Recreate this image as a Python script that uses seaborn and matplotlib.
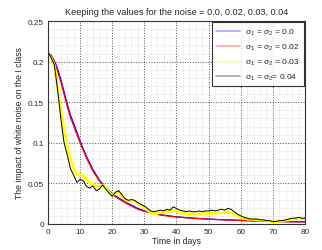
import numpy as np
import pandas as pd
import matplotlib
matplotlib.use("Agg")
import matplotlib.pyplot as plt
import seaborn as sns
from matplotlib.ticker import MultipleLocator

# deterministic curves (sigma = 0.0 and 0.02)
t_smooth = [0, 1, 2, 3, 4, 5, 6, 7, 8, 9, 10, 12, 14, 16, 18, 20, 22, 25, 28, 30,
            35, 40, 45, 50, 55, 60, 65, 70, 75, 80]
i_s00 = [0.21, 0.208, 0.201, 0.191, 0.178, 0.163, 0.148, 0.134, 0.124, 0.113, 0.102,
         0.083, 0.067, 0.054, 0.045, 0.037, 0.032, 0.025, 0.019, 0.016,
         0.0112, 0.0087, 0.0071, 0.0059, 0.005, 0.0043, 0.0036, 0.0031, 0.0028, 0.0026]
i_s02 = [0.21, 0.207, 0.199, 0.188, 0.175, 0.16, 0.145, 0.131, 0.121, 0.11, 0.1,
         0.081, 0.065, 0.053, 0.044, 0.036, 0.031, 0.024, 0.018, 0.0155,
         0.011, 0.0085, 0.007, 0.0058, 0.005, 0.0043, 0.0036, 0.003, 0.0027, 0.0025]

# noisy curves (sigma = 0.03 and 0.04), one value per day
t_days = list(range(81))
i_s03 = [0.21, 0.205, 0.195, 0.168, 0.14, 0.118, 0.096, 0.08, 0.068, 0.06,
         0.061, 0.059, 0.055, 0.05, 0.05, 0.046, 0.045, 0.048, 0.044, 0.039,
         0.035, 0.038, 0.04, 0.035, 0.03, 0.028, 0.029, 0.028, 0.025, 0.023,
         0.02, 0.017, 0.014, 0.013, 0.013, 0.014, 0.014, 0.015, 0.015, 0.017,
         0.016, 0.014, 0.013, 0.012, 0.013, 0.012, 0.012, 0.012, 0.012, 0.013,
         0.013, 0.013, 0.013, 0.014, 0.014, 0.014, 0.015, 0.014, 0.012, 0.01,
         0.008, 0.007, 0.006, 0.0055, 0.0055, 0.005, 0.0045, 0.0045, 0.004, 0.0035,
         0.003, 0.003, 0.0035, 0.004, 0.0045, 0.005, 0.006, 0.0065, 0.007, 0.0065,
         0.0065]
i_s04 = [0.212, 0.205, 0.196, 0.165, 0.13, 0.1, 0.085, 0.068, 0.06, 0.051,
         0.055, 0.053, 0.046, 0.044, 0.047, 0.041, 0.043, 0.048, 0.043, 0.038,
         0.034, 0.039, 0.041, 0.036, 0.031, 0.029, 0.03, 0.029, 0.026, 0.024,
         0.022, 0.019, 0.016, 0.015, 0.016, 0.017, 0.016, 0.018, 0.017, 0.021,
         0.019, 0.017, 0.016, 0.015, 0.016, 0.015, 0.015, 0.016, 0.015, 0.016,
         0.016, 0.017, 0.016, 0.017, 0.018, 0.017, 0.019, 0.018, 0.015, 0.012,
         0.01, 0.008, 0.007, 0.006, 0.006, 0.006, 0.005, 0.005, 0.004, 0.004,
         0.003, 0.003, 0.004, 0.004, 0.005, 0.006, 0.007, 0.007, 0.008, 0.007,
         0.007]

labels = ['σ$_1$ = σ$_2$ = 0.0', 'σ$_1$ = σ$_2$ = 0.02',
          'σ$_1$ = σ$_2$ = 0.03', 'σ$_1$ = σ$_2$= 0.04']
colors = ['blue', 'red', 'yellow', 'black']

sns.set_style("white")
plt.rcParams['font.family'] = ['Liberation Sans', 'DejaVu Sans']
plt.rcParams['mathtext.fontset'] = 'custom'
plt.rcParams['mathtext.rm'] = 'Liberation Sans'
plt.rcParams['mathtext.it'] = 'Liberation Sans'
plt.rcParams['mathtext.default'] = 'rm'

fs = 6.2
fig = plt.figure(figsize=(3.22, 2.51), dpi=100)
ax = fig.add_axes([0.149, 0.104, 0.798, 0.808])

sns.lineplot(x=t_smooth, y=i_s00, color=colors[0], lw=0.9, label=labels[0], ax=ax)
sns.lineplot(x=t_smooth, y=i_s02, color=colors[1], lw=0.9, label=labels[1], ax=ax)
sns.lineplot(x=t_days, y=i_s03, color=colors[2], lw=2.0, label=labels[2], ax=ax)
sns.lineplot(x=t_days, y=i_s04, color=colors[3], lw=0.7, label=labels[3], ax=ax)

ax.set_xlim(0, 80)
ax.set_ylim(0, 0.25)
ax.xaxis.set_major_locator(MultipleLocator(10))
ax.xaxis.set_minor_locator(MultipleLocator(2))
ax.set_yticks([0, 0.05, 0.1, 0.15, 0.2, 0.25])
ax.set_yticklabels(['0', '0.05', '0.1', '0.15', '0.2', '0.25'])
ax.yaxis.set_minor_locator(MultipleLocator(0.01))
ax.grid(which='major', linestyle=':', color='#555555', lw=0.7)
ax.grid(which='minor', linestyle=':', color='#cccccc', lw=0.5)
ax.tick_params(which='both', direction='in', labelsize=5.9, length=3, pad=3)
ax.tick_params(which='minor', length=0)
for s in ax.spines.values():
    s.set_color('#333333')
    s.set_linewidth(0.8)

ax.set_title('Keeping the values for the noise = 0.0, 0.02, 0.03, 0.04', fontsize=6.6, pad=5)
ax.set_xlabel('Time in days', fontsize=fs, labelpad=1)
ax.set_ylabel('The impact of white noise on the I class', fontsize=fs, labelpad=3)

leg = ax.legend(loc='upper right', fontsize=6.0, frameon=True, fancybox=False,
                edgecolor='black', borderaxespad=0.15, handlelength=2.9,
                labelspacing=0.6, borderpad=0.5, handletextpad=0.6)
leg.get_frame().set_linewidth(0.8)
for h in leg.get_lines():
    h.set_alpha(0.35)
    h.set_linewidth(1.2)

fig.savefig('out.png', dpi=100)
